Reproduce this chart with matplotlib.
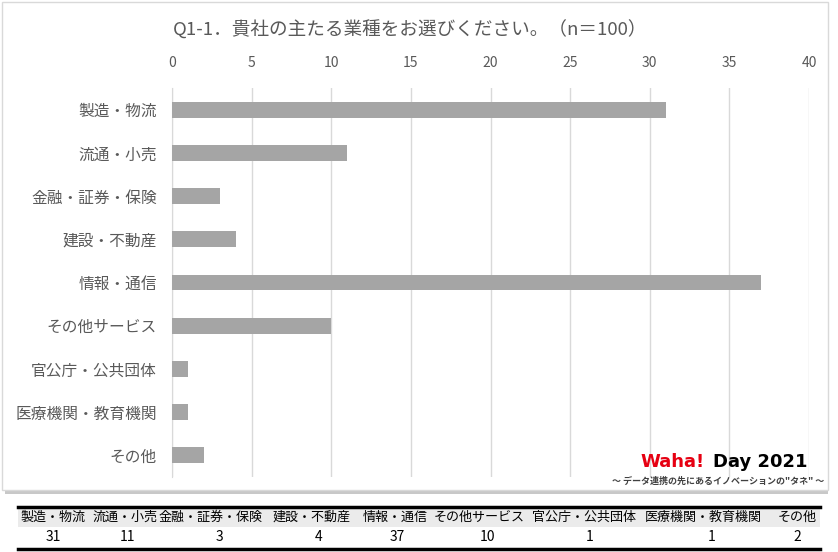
import numpy as np
import matplotlib
matplotlib.use("Agg")
import matplotlib.pyplot as plt
from matplotlib.patches import Rectangle

plt.rcParams['font.family'] = ['Noto Sans CJK JP', 'DejaVu Sans']

# データ
categories = ['製造・物流', '流通・小売', '金融・証券・保険', '建設・不動産', '情報・通信',
              'その他サービス', '官公庁・公共団体', '医療機関・教育機関', 'その他']
counts = [31, 11, 3, 4, 37, 10, 1, 1, 2]
xticks = [0, 5, 10, 15, 20, 25, 30, 35, 40]
title = 'Q1-1．貴社の主たる業種をお選びください。（n＝100）'

W, H = 838, 552
fig = plt.figure(figsize=(W / 100, H / 100), dpi=100)

def fx(x):
    return x / W

def fy(y):
    return 1 - y / H

# chart frame + shadow
fig.patches.append(Rectangle((fx(5), fy(494)), fx(828) - fx(5), fy(5) - fy(494),
                             transform=fig.transFigure, facecolor='#c8c8c8', edgecolor='none', zorder=0))
fig.patches.append(Rectangle((fx(2), fy(490)), fx(828) - fx(2), fy(2) - fy(490),
                             transform=fig.transFigure, facecolor='white', edgecolor='#d9d9d9', lw=1, zorder=0))

ax = fig.add_axes([fx(172), fy(477), fx(809) - fx(172), fy(88) - fy(477)])
ax.set_zorder(2)
ax.set_facecolor('none')
y = np.arange(len(categories))
ax.barh(y, counts, height=0.37, color='#a5a5a5', zorder=3)
ax.set_xlim(0, 40)
ax.set_ylim(len(categories) - 0.5, -0.5)
ax.set_xticks(xticks)
ax.xaxis.tick_top()
ax.tick_params(axis='x', length=0, labelsize=10, labelcolor='#595959', pad=13)
ax.tick_params(axis='y', length=0, labelsize=11.3, labelcolor='#595959', pad=11)
ax.set_yticks(y)
ax.set_yticklabels(categories)
ax.grid(axis='x', color='#d9d9d9', lw=1, zorder=0)
for s in ['top', 'right', 'bottom']:
    ax.spines[s].set_visible(False)
ax.spines['left'].set_color('#d9d9d9')

fig.text(fx(410), fy(30), title, ha='center', va='center', fontsize=13.4, color='#595959', zorder=3)

# logo
fig.text(fx(705), fy(462), 'Waha!', ha='right', va='center', fontsize=13,
         fontweight='bold', color='#e60012', family='DejaVu Sans', zorder=3)
fig.text(fx(807), fy(462), 'Day 2021', ha='right', va='center', fontsize=13,
         fontweight='bold', color='black', family='DejaVu Sans', zorder=3)
fig.text(fx(718), fy(481), '～ データ連携の先にあるイノベーションの"タネ" ～', ha='center', va='center',
         fontsize=6.5, fontweight='bold', color='#404040', zorder=3)

# table below
hdr_x = [53, 125, 210, 312, 395, 479, 584, 703, 797]
val_x = [53, 127, 219, 319, 397, 487, 590, 712, 797]
fig.patches.append(Rectangle((fx(18), fy(527)), fx(820) - fx(18), fy(508) - fy(527),
                             transform=fig.transFigure, facecolor='#ebebeb', edgecolor='none'))
fig.add_artist(plt.Line2D([fx(18), fx(820)], [fy(507), fy(507)], color='black', lw=2.5))
fig.add_artist(plt.Line2D([fx(18), fx(820)], [fy(549), fy(549)], color='black', lw=2.5))
for lab, c, hx, vx in zip(categories, counts, hdr_x, val_x):
    fig.text(fx(hx), fy(517), lab, ha='center', va='center', fontsize=9.4, color='black')
    fig.text(fx(vx), fy(537), str(c), ha='center', va='center', fontsize=10, color='black')

fig.savefig('out.png', dpi=100)
